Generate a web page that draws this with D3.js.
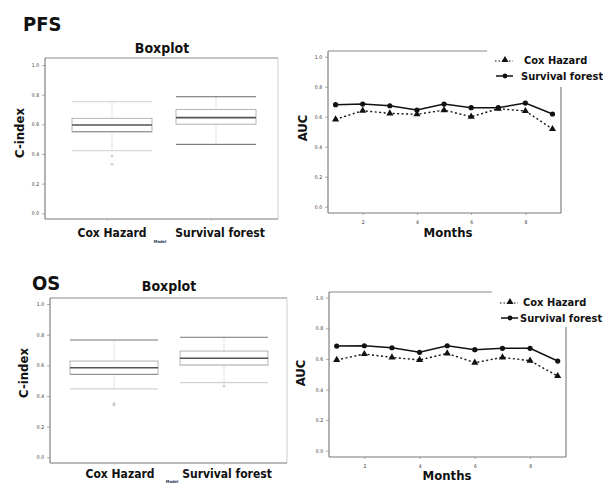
<!DOCTYPE html>
<html lang="en">

<head>
    <meta charset="UTF-8">
    <title>PFS / OS Boxplot and AUC</title>

    <script src="https://d3js.org/d3.v7.min.js"></script>

    <style>
        body {
            margin: 0;
            background: #fff;
        }

        text {
            font-family: "DejaVu Sans Condensed", "DejaVu Sans", sans-serif;
            font-stretch: condensed;
        }

        .big {
            font-weight: bold;
            fill: #111;
        }

        .tick_text {
            font-size: 5px;
            fill: #333;
        }
    </style>

</head>

<body>
    <svg width="603" height="484"></svg>

    <script>
        // ---- data ----
        const models = ["Cox Hazard", "Survival forest"];
        const yTicks = [0, 0.2, 0.4, 0.6, 0.8, 1.0];
        const monthTicks = [2, 4, 6, 8];
        const months = [1, 2, 3, 4, 5, 6, 7, 8, 9];

        // box stats: [lower whisker, q1, median, q3, upper whisker]
        const pfsCoxBox = [0.422, 0.55, 0.595, 0.64, 0.752];
        const pfsCoxOutliers = [0.386, 0.33];
        const pfsForestBox = [0.465, 0.60, 0.645, 0.70, 0.786];
        const pfsForestOutliers = [];

        const osCoxBox = [0.446, 0.541, 0.584, 0.628, 0.765];
        const osCoxOutliers = [0.35, 0.34];
        const osForestBox = [0.487, 0.602, 0.646, 0.693, 0.783];
        const osForestOutliers = [0.465];

        const pfsCoxAuc = [0.582, 0.64, 0.622, 0.616, 0.644, 0.60, 0.653, 0.638, 0.518];
        const pfsForestAuc = [0.68, 0.684, 0.673, 0.644, 0.684, 0.66, 0.66, 0.691, 0.618];
        const osCoxAuc = [0.593, 0.632, 0.610, 0.593, 0.636, 0.575, 0.610, 0.588, 0.488];
        const osForestAuc = [0.684, 0.686, 0.673, 0.643, 0.686, 0.660, 0.669, 0.669, 0.586];

        const svg = d3.select("svg");

        function frame(g, l, r, t, b, rightColor, rightWidth, rightTop) {
            g.append("line").attr("x1", l).attr("x2", r).attr("y1", t).attr("y2", t)
                .attr("stroke", "#8a8a8a").attr("stroke-width", 1);
            g.append("line").attr("x1", r).attr("x2", r).attr("y1", rightTop).attr("y2", b)
                .attr("stroke", rightColor).attr("stroke-width", rightWidth);
            g.append("line").attr("x1", l).attr("x2", r).attr("y1", b).attr("y2", b)
                .attr("stroke", "#777").attr("stroke-width", 1);
            g.append("line").attr("x1", l).attr("x2", l).attr("y1", t).attr("y2", b)
                .attr("stroke", "#666").attr("stroke-width", 1);
        }

        function yAxis(g, y, l) {
            const ax = g.append("g").attr("transform", `translate(${l},0)`)
                .call(d3.axisLeft(y).tickValues(yTicks).tickFormat(d3.format(".1f")).tickSize(3).tickPadding(3));
            ax.select(".domain").remove();
            ax.selectAll("line").attr("stroke", "#777").attr("stroke-width", 0.6);
            ax.selectAll("text").attr("class", "tick_text").attr("font-size", null).attr("font-family", null);
        }

        function drawBox(cfg) {
            const g = svg.append("g");
            const y = d3.scaleLinear().domain([0, 1]).range([cfg.y0, cfg.y1]);
            const x = d3.scalePoint().domain(models).range([cfg.x0, cfg.x1]).padding(0.5);

            frame(g, cfg.l, cfg.r, cfg.t, cfg.b, "#cfcfcf", 1, cfg.t);
            yAxis(g, y, cfg.l);

            // x ticks
            g.selectAll(".xt").data(models).enter().append("line")
                .attr("x1", d => x(d) + cfg.tickShift).attr("x2", d => x(d) + cfg.tickShift)
                .attr("y1", cfg.b).attr("y2", cfg.b + 2)
                .attr("stroke", "#bbb").attr("stroke-width", 0.8);

            const boxes = [cfg.cox, cfg.forest];
            const outliers = [cfg.coxOut, cfg.forestOut];
            const w = cfg.boxW;

            boxes.forEach((s, i) => {
                const cx = x(models[i]);
                const cap = cfg.capColors[i];
                // whisker stems (dotted, light)
                g.append("line").attr("x1", cx).attr("x2", cx).attr("y1", y(s[3])).attr("y2", y(s[4]))
                    .attr("stroke", "#c8c8c8").attr("stroke-dasharray", "1,1");
                g.append("line").attr("x1", cx).attr("x2", cx).attr("y1", y(s[1])).attr("y2", y(s[0]))
                    .attr("stroke", "#c8c8c8").attr("stroke-dasharray", "1,1");
                // caps
                g.append("line").attr("x1", cx - w / 2).attr("x2", cx + w / 2).attr("y1", y(s[4])).attr("y2", y(s[4]))
                    .attr("stroke", cap[0]).attr("stroke-width", 1);
                g.append("line").attr("x1", cx - w / 2).attr("x2", cx + w / 2).attr("y1", y(s[0])).attr("y2", y(s[0]))
                    .attr("stroke", cap[1]).attr("stroke-width", 1);
                // box
                g.append("rect").attr("x", cx - w / 2).attr("width", w)
                    .attr("y", y(s[3])).attr("height", y(s[1]) - y(s[3]))
                    .attr("fill", "#fff").attr("stroke", "#b5b5b5").attr("stroke-width", 1);
                g.append("line").attr("x1", cx - w / 2).attr("x2", cx + w / 2).attr("y1", y(s[1])).attr("y2", y(s[1]))
                    .attr("stroke", i == 0 ? "#888" : "#c5c5c5").attr("stroke-width", 1);
                // median
                g.append("line").attr("x1", cx - w / 2).attr("x2", cx + w / 2).attr("y1", y(s[2])).attr("y2", y(s[2]))
                    .attr("stroke", "#555").attr("stroke-width", 1.6);
                // outliers
                g.selectAll(null).data(outliers[i]).enter().append("circle")
                    .attr("cx", cx).attr("cy", d => y(d)).attr("r", 1)
                    .attr("fill", "none").attr("stroke", "#aaa").attr("stroke-width", 0.6);
            });

            // labels
            g.append("text").attr("class", "big").attr("x", cfg.titleX).attr("y", cfg.titleY)
                .attr("text-anchor", "middle").attr("font-size", 14).text("Boxplot");
            g.append("text").attr("class", "big").attr("x", cfg.panelX).attr("y", cfg.panelY)
                .attr("font-size", 20).text(cfg.panel);
            models.forEach((m, i) => {
                g.append("text").attr("class", "big").attr("x", cfg.labX[i]).attr("y", cfg.labY)
                    .attr("text-anchor", "middle").attr("font-size", 12).text(m);
            });
            g.append("text").attr("x", cfg.modelX).attr("y", cfg.modelY).attr("text-anchor", "middle")
                .attr("font-size", 4).attr("font-weight", "bold").attr("fill", "#223355").text("Model");
            g.append("text").attr("class", "big")
                .attr("transform", `translate(${cfg.yLabX},${cfg.yLabY}) rotate(-90)`)
                .attr("text-anchor", "middle").attr("font-size", 13).text("C-index");
        }

        function drawAuc(cfg) {
            const g = svg.append("g");
            const y = d3.scaleLinear().domain([0, 1]).range([cfg.y0, cfg.y1]);
            const x = d3.scaleLinear().domain([1, 9]).range([cfg.x0, cfg.x1]);

            frame(g, cfg.l, cfg.r, cfg.t, cfg.b, "#9a9a9a", 1.5, cfg.rightTop);
            yAxis(g, y, cfg.l);

            const xa = g.append("g").attr("transform", `translate(0,${cfg.b})`)
                .call(d3.axisBottom(x).tickValues(monthTicks).tickFormat(d3.format("d")).tickSize(2).tickPadding(5));
            xa.select(".domain").remove();
            xa.selectAll("line").attr("stroke", "#777").attr("stroke-width", 0.6);
            xa.selectAll("text").attr("class", "tick_text").attr("font-size", null).attr("font-family", null);

            const line = d3.line().x((d, i) => x(months[i])).y(d => y(d));

            // Cox Hazard: dotted with triangles
            g.append("path").datum(cfg.cox).attr("d", line).attr("fill", "none")
                .attr("stroke", "#111").attr("stroke-width", 1.4).attr("stroke-dasharray", "2,2.5");
            g.selectAll(null).data(cfg.cox).enter().append("path")
                .attr("d", d3.symbol(d3.symbolTriangle, 22))
                .attr("transform", (d, i) => `translate(${x(months[i])},${y(d)})`)
                .attr("fill", "#111");

            // Survival forest: solid with dots
            g.append("path").datum(cfg.forest).attr("d", line).attr("fill", "none")
                .attr("stroke", "#111").attr("stroke-width", 1.5);
            g.selectAll(null).data(cfg.forest).enter().append("circle")
                .attr("cx", (d, i) => x(months[i])).attr("cy", d => y(d)).attr("r", 2.6)
                .attr("fill", "#111");

            // legend
            const lg = g.append("g");
            lg.append("rect").attr("x", cfg.legX - 8).attr("y", cfg.legY - 14).attr("width", 603 - cfg.legX + 8)
                .attr("height", cfg.rightTop - cfg.legY + 12).attr("fill", "#fff");
            lg.append("line").attr("x1", cfg.legX).attr("x2", cfg.legX + 18).attr("y1", cfg.legY).attr("y2", cfg.legY)
                .attr("stroke", "#111").attr("stroke-width", 1.2).attr("stroke-dasharray", "1.5,2");
            lg.append("path").attr("d", d3.symbol(d3.symbolTriangle, 22))
                .attr("transform", `translate(${cfg.legX + 10},${cfg.legY - 1})`).attr("fill", "#111");
            lg.append("line").attr("x1", cfg.legX + 1).attr("x2", cfg.legX + 18).attr("y1", cfg.legY + 15).attr("y2", cfg.legY + 15)
                .attr("stroke", "#111").attr("stroke-width", 1.5);
            lg.append("circle").attr("cx", cfg.legX + 10).attr("cy", cfg.legY + 15).attr("r", 2.4).attr("fill", "#111");
            lg.append("text").attr("class", "big").attr("x", cfg.legTextX[0]).attr("y", cfg.legY + 3)
                .attr("font-size", 11).text(models[0]);
            lg.append("text").attr("class", "big").attr("x", cfg.legTextX[1]).attr("y", cfg.legY + 19)
                .attr("font-size", 11).text(models[1]);

            g.append("text").attr("class", "big").attr("x", cfg.monthsX).attr("y", cfg.monthsY)
                .attr("text-anchor", "middle").attr("font-size", 13).text("Months");
            g.append("text").attr("class", "big")
                .attr("transform", `translate(${cfg.yLabX},${cfg.yLabY}) rotate(-90)`)
                .attr("text-anchor", "middle").attr("font-size", 13).text("AUC");
        }

        drawBox({
            panel: "PFS", panelX: 23, panelY: 31,
            l: 45, r: 278, t: 58, b: 219,
            y0: 213.3, y1: 65, x0: 60, x1: 268, boxW: 80, tickShift: -5,
            cox: pfsCoxBox, coxOut: pfsCoxOutliers, forest: pfsForestBox, forestOut: pfsForestOutliers,
            capColors: [["#d0d0d0", "#d0d0d0"], ["#666", "#666"]],
            titleX: 162, titleY: 53, labX: [112, 220], labY: 237,
            modelX: 160, modelY: 243, yLabX: 24, yLabY: 133
        });

        drawBox({
            panel: "OS", panelX: 32, panelY: 290,
            l: 50, r: 287, t: 298, b: 463,
            y0: 457.3, y1: 304, x0: 59, x1: 279, boxW: 88, tickShift: 0,
            cox: osCoxBox, coxOut: osCoxOutliers, forest: osForestBox, forestOut: osForestOutliers,
            capColors: [["#777", "#c8c8c8"], ["#777", "#c8c8c8"]],
            titleX: 169, titleY: 291, labX: [120, 227], labY: 478,
            modelX: 172, modelY: 483, yLabX: 28, yLabY: 373
        });

        drawAuc({
            l: 328, r: 561, t: 51, b: 213, rightTop: 87,
            y0: 206.7, y1: 56.7, x0: 335.6, x1: 552.5,
            cox: pfsCoxAuc, forest: pfsForestAuc,
            legX: 495, legY: 61, legTextX: [524, 521],
            monthsX: 448, monthsY: 237, yLabX: 307, yLabY: 128
        });

        drawAuc({
            l: 329, r: 566, t: 292, b: 457, rightTop: 327,
            y0: 450.7, y1: 297.7, x0: 336.7, x1: 557.7,
            cox: osCoxAuc, forest: osForestAuc,
            legX: 500, legY: 303, legTextX: [523, 520],
            monthsX: 447, monthsY: 480, yLabX: 305, yLabY: 373
        });
    </script>
</body>

</html>
